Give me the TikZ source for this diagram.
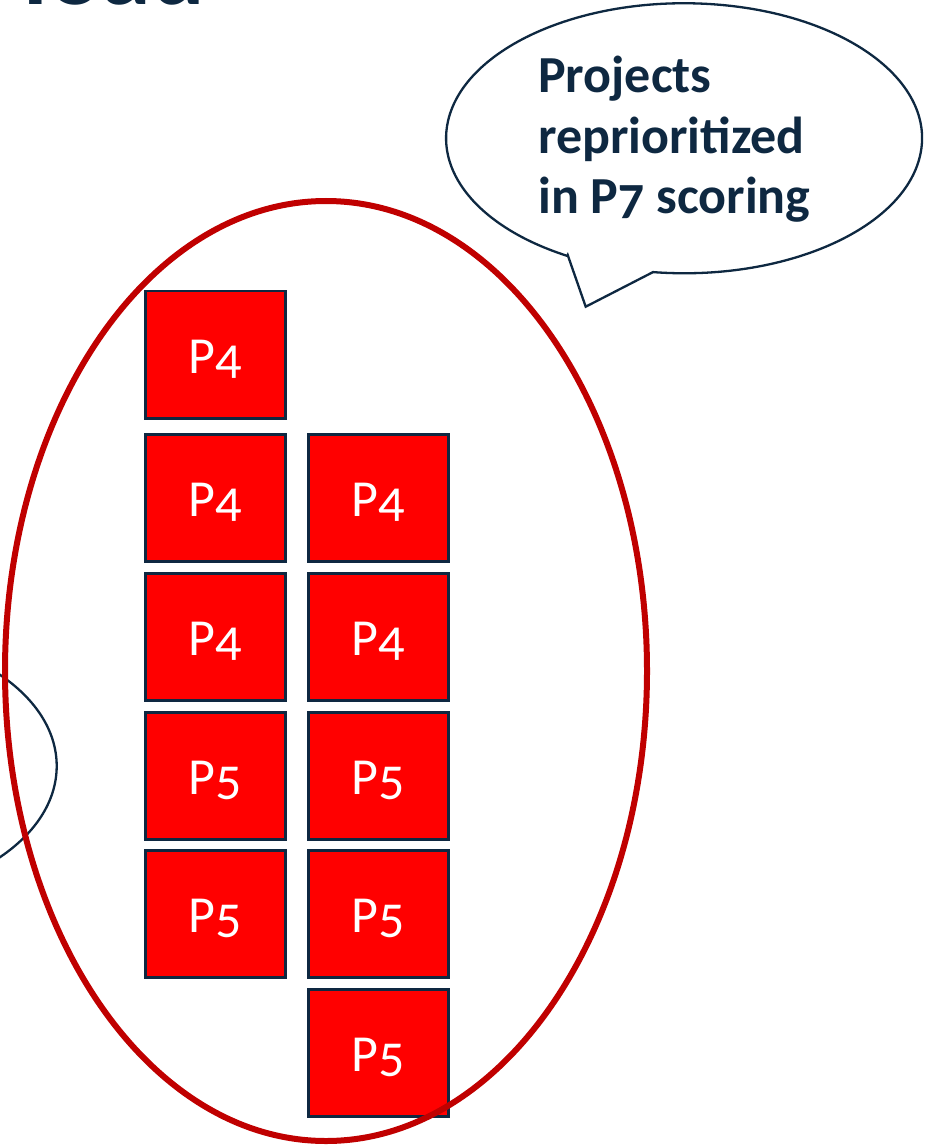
\documentclass[tikz,border=0pt]{standalone}
\usepackage{fontspec}
\setmainfont{Carlito}[Numbers=OldStyle]
\definecolor{navy}{HTML}{0E2841}
\definecolor{ringred}{HTML}{C00000}
\definecolor{boxred}{HTML}{FF0000}
\begin{document}
\begin{tikzpicture}[x=1pt,y=-1pt,
  pbox/.style={draw=navy, line width=2.5pt, fill=boxred, text=white,
    minimum width=140pt, minimum height=127pt, inner sep=0pt,
    text height=37pt, text depth=0pt, anchor=north west,
    font=\fontsize{52}{60}\selectfont},
  ring/.style={draw=ringred, line width=6pt},
  navyline/.style={draw=navy, line width=2.3pt},
  calltext/.style={text=navy, anchor=base west, inner sep=0pt,
    font=\bfseries\fontsize{52}{60}\selectfont},
  titlefrag/.style={text=navy, anchor=base east, inner sep=0pt,
    font=\bfseries\fontsize{100}{110}\selectfont}]
\useasboundingbox (0,0) rectangle (924,1147);
\fill[white] (0,0) rectangle (924,1147);

% cropped title fragment at the very top
\node[titlefrag] (title) at (205,5) {load};

% left partial bubble
\draw[navyline] (-150,766) ellipse [x radius=206.7, y radius=132.5];

% boxes column 1
\node[pbox] (a1) at (144,290) {P4};
\node[pbox] (a2) at (144,433) {P4};
\node[pbox] (a3) at (144,572) {P4};
\node[pbox] (a4) at (144,711) {P5};
\node[pbox] (a5) at (144,849) {P5};
% boxes column 2
\node[pbox] (b2) at (307,433) {P4};
\node[pbox] (b3) at (307,572) {P4};
\node[pbox] (b4) at (307,711) {P5};
\node[pbox] (b5) at (307,849) {P5};
\node[pbox] (b6) at (307,988) {P5};

% red ring
\draw[ring] (326,671) ellipse [x radius=321, y radius=470];

% callout bubble
\coordinate (tA) at (567.7,255);
\coordinate (tip) at (585.7,306.7);
\coordinate (tB) at (653,272.1);
\filldraw[navyline, fill=white] (tA) -- (tip) -- (tB)
  arc[start angle=97.5, end angle=-240.6, x radius=238, y radius=135] -- cycle;

\node[calltext] (l1) at (538,93) {Projects};
\node[calltext] (l2) at (538,153.5) {reprioritized};
\node[calltext] (l3) at (538,214) {in P7 scoring};
\end{tikzpicture}
\end{document}
